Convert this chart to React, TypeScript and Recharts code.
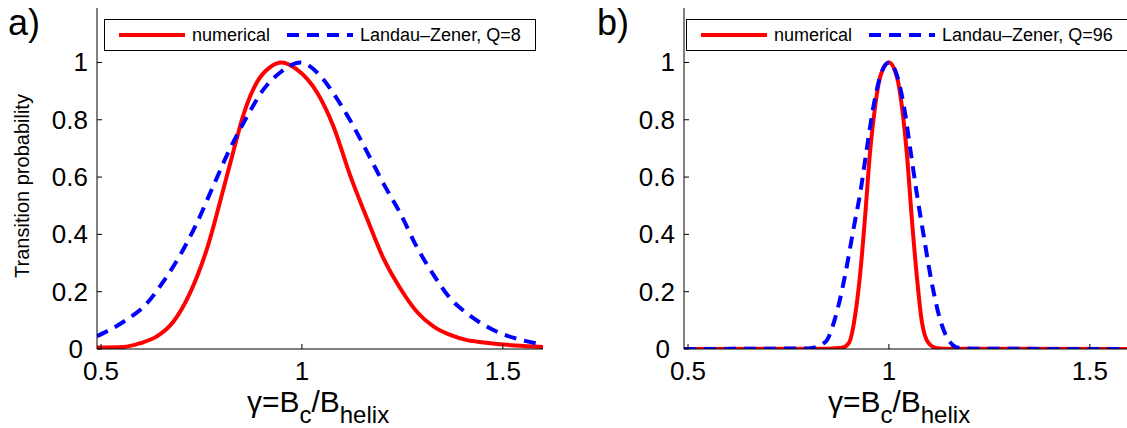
import React from 'react';
import { LineChart, Line, XAxis, YAxis } from 'recharts';

// gamma = B_c / B_helix, transition probability
const numericalA = [
  { g: 0.49, p: 0.005 }, { g: 0.556, p: 0.007 }, { g: 0.597, p: 0.02 }, { g: 0.638, p: 0.043 },
  { g: 0.68, p: 0.095 }, { g: 0.721, p: 0.194 }, { g: 0.764, p: 0.351 }, { g: 0.805, p: 0.56 },
  { g: 0.83, p: 0.693 }, { g: 0.855, p: 0.82 }, { g: 0.888, p: 0.931 }, { g: 0.921, p: 0.984 },
  { g: 0.95, p: 1.0 }, { g: 0.988, p: 0.975 }, { g: 1.037, p: 0.897 }, { g: 1.079, p: 0.775 },
  { g: 1.12, p: 0.606 }, { g: 1.162, p: 0.455 }, { g: 1.203, p: 0.316 }, { g: 1.245, p: 0.211 },
  { g: 1.286, p: 0.13 }, { g: 1.328, p: 0.078 }, { g: 1.369, p: 0.049 }, { g: 1.411, p: 0.031 },
  { g: 1.453, p: 0.023 }, { g: 1.532, p: 0.012 }, { g: 1.6, p: 0.007 },
];

const landauZenerA = [
  { g: 0.49, p: 0.045 }, { g: 0.556, p: 0.095 }, { g: 0.614, p: 0.159 }, { g: 0.655, p: 0.235 },
  { g: 0.697, p: 0.328 }, { g: 0.738, p: 0.438 }, { g: 0.78, p: 0.571 }, { g: 0.821, p: 0.699 },
  { g: 0.863, p: 0.81 }, { g: 0.904, p: 0.905 }, { g: 0.946, p: 0.965 }, { g: 0.996, p: 1.0 },
  { g: 1.037, p: 0.966 }, { g: 1.079, p: 0.891 }, { g: 1.12, p: 0.798 }, { g: 1.162, p: 0.688 },
  { g: 1.203, p: 0.577 }, { g: 1.245, p: 0.473 }, { g: 1.286, p: 0.356 }, { g: 1.328, p: 0.258 },
  { g: 1.369, p: 0.177 }, { g: 1.411, p: 0.124 }, { g: 1.453, p: 0.084 }, { g: 1.494, p: 0.055 },
  { g: 1.532, p: 0.037 }, { g: 1.6, p: 0.015 },
];

const numericalB = [
  { g: 0.49, p: 0 }, { g: 0.85, p: 0.001 }, { g: 0.883, p: 0.004 }, { g: 0.9, p: 0.02 },
  { g: 0.916, p: 0.118 }, { g: 0.929, p: 0.27 }, { g: 0.941, p: 0.467 }, { g: 0.953, p: 0.687 },
  { g: 0.966, p: 0.85 }, { g: 0.978, p: 0.949 }, { g: 1.0, p: 1.0 }, { g: 1.02, p: 0.949 },
  { g: 1.032, p: 0.85 }, { g: 1.045, p: 0.676 }, { g: 1.057, p: 0.455 }, { g: 1.07, p: 0.246 },
  { g: 1.082, p: 0.095 }, { g: 1.099, p: 0.02 }, { g: 1.12, p: 0.003 }, { g: 1.16, p: 0.001 },
  { g: 1.6, p: 0 },
];

const landauZenerB = [
  { g: 0.49, p: 0 }, { g: 0.8, p: 0.002 }, { g: 0.842, p: 0.025 }, { g: 0.866, p: 0.107 },
  { g: 0.891, p: 0.258 }, { g: 0.912, p: 0.42 }, { g: 0.929, p: 0.548 }, { g: 0.945, p: 0.699 },
  { g: 0.962, p: 0.85 }, { g: 0.978, p: 0.95 }, { g: 1.0, p: 1.0 }, { g: 1.02, p: 0.955 },
  { g: 1.037, p: 0.85 }, { g: 1.053, p: 0.699 }, { g: 1.07, p: 0.537 }, { g: 1.086, p: 0.4 },
  { g: 1.107, p: 0.228 }, { g: 1.128, p: 0.1 }, { g: 1.149, p: 0.03 }, { g: 1.174, p: 0.004 },
  { g: 1.22, p: 0.001 }, { g: 1.6, p: 0 },
];

const xTicks = [0.5, 1, 1.5];
const yTicks = [0, 0.2, 0.4, 0.6, 0.8, 1];

const FONT = '"Liberation Sans", Arial, Helvetica, sans-serif';
const RED = '#ff0000';
const BLUE = '#0000ff';

// matlab style: ticks point into the plot
const XTick = ({ x, y, payload }: any) => (
  <g>
    <line x1={x} y1={y} x2={x} y2={y - 5} stroke="#000" strokeWidth={1} />
    <text x={x} y={y + 31} textAnchor="middle" fontSize={26} fontFamily={FONT} fill="#000">
      {payload.value}
    </text>
  </g>
);

const YTick = ({ x, y, payload }: any) => (
  <g>
    <line x1={x} y1={y} x2={x + 5} y2={y} stroke="#000" strokeWidth={1} />
    <text x={payload.value === 0 ? x - 14 : x - 9} y={y + 9} textAnchor="end" fontSize={26} fontFamily={FONT} fill="#000">
      {payload.value}
    </text>
  </g>
);

const LegendBox = ({ left, width, q }: any) => (
  <div
    style={{
      position: 'absolute', left, top: 19, width, height: 32, boxSizing: 'border-box',
      border: '1.3px solid #000', background: '#fff', display: 'flex', alignItems: 'center',
      paddingLeft: 14, fontFamily: FONT, fontSize: 18, color: '#000', whiteSpace: 'nowrap',
    }}
  >
    <svg width={66} height={6}><line x1={0} y1={3} x2={66} y2={3} stroke={RED} strokeWidth={4} /></svg>
    <span style={{ marginLeft: 7 }}>numerical</span>
    <svg width={66} height={6} style={{ marginLeft: 17 }}>
      <line x1={0} y1={3} x2={66} y2={3} stroke={BLUE} strokeWidth={4} strokeDasharray="12 8" />
    </svg>
    <span style={{ marginLeft: 7 }}>Landau–Zener, Q={q}</span>
  </div>
);

const Panel = ({ left, numerical, lz, q, tag, labelX, legendLeft, legendWidth, showYLabel }: any) => (
  <div style={{ position: 'absolute', left, top: 0, width: 560, height: 428 }}>
    <LineChart width={560} height={428} margin={{ top: 8, right: 17, bottom: 78, left: 96 }}>
      <XAxis
        type="number" dataKey="g" domain={[0.49, 1.6]} ticks={xTicks} allowDataOverflow
        height={1} tickSize={0} tickMargin={0} tickLine={false} tick={<XTick />}
        axisLine={{ stroke: '#000', strokeWidth: 1 }}
      />
      <YAxis
        type="number" domain={[0, 1.19]} ticks={yTicks} allowDataOverflow
        width={1} tickSize={0} tickMargin={0} tickLine={false} tick={<YTick />}
        axisLine={{ stroke: '#000', strokeWidth: 1 }}
      />
      <Line data={numerical} dataKey="p" type="monotone" stroke={RED} strokeWidth={4} dot={false} isAnimationActive={false} />
      <Line data={lz} dataKey="p" type="monotone" stroke={BLUE} strokeWidth={4} strokeDasharray="12 8" dot={false} isAnimationActive={false} />
    </LineChart>
    <svg width={560} height={428} style={{ position: 'absolute', left: 0, top: 0, pointerEvents: 'none' }}>
      <text x={tag === 'a)' ? 8 : 10} y={35} fontSize={36} fontFamily={FONT} fill="#000">{tag}</text>
      {showYLabel && (
        <text transform="translate(29,186) rotate(-90)" textAnchor="middle" fontSize={20} fontFamily={FONT} fill="#000">
          Transition probability
        </text>
      )}
      <text x={labelX} y={412} textAnchor="middle" fontSize={30} fontFamily={FONT} fill="#000">
        γ=B<tspan fontSize={24} dy={11}>c</tspan>
        <tspan dy={-11}>/B</tspan>
        <tspan fontSize={24} dy={11}>helix</tspan>
      </text>
    </svg>
    <LegendBox left={legendLeft} width={legendWidth} q={q} />
  </div>
);

export default function App() {
  return (
    <div style={{ position: 'absolute', left: 0, top: 0, width: 1127, height: 428, overflow: 'hidden', background: '#fff' }}>
      <Panel left={0} numerical={numericalA} lz={landauZenerA} q={8} tag="a)" labelX={318}
        legendLeft={104} legendWidth={432} showYLabel />
      <Panel left={587} numerical={numericalB} lz={landauZenerB} q={96} tag="b)" labelX={312}
        legendLeft={99} legendWidth={460} showYLabel={false} />
    </div>
  );
}
